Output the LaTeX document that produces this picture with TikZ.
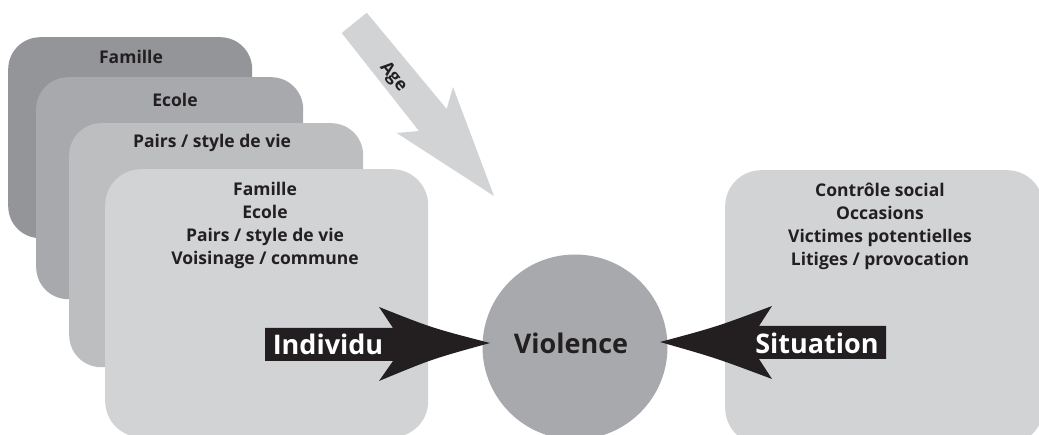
\documentclass[tikz,border=0pt]{standalone}
\usepackage{fontspec}
\setmainfont{Open Sans}
\definecolor{gA}{HTML}{939598}
\definecolor{gB}{HTML}{A7A9AC}
\definecolor{gC}{HTML}{BCBEC0}
\definecolor{gD}{HTML}{D1D3D4}
\definecolor{ink}{HTML}{231F20}
\tikzset{
  panel/.style={rectangle, rounded corners=32pt, inner sep=0pt, anchor=north west, draw=none},
  lbl/.style={text=ink, font=\bfseries\fontsize{17.5}{23}\selectfont, align=center, inner sep=0pt},
  big/.style={font=\bfseries\fontsize{27}{30}\selectfont, inner sep=0pt},
  blk/.style={fill=ink, draw=none}
}
\begin{document}
\begin{tikzpicture}[x=1pt,y=-1pt]
\clip (0,0) rectangle (1039,435);
% stacked panels
\node[panel, fill=gA, minimum width=244pt, minimum height=201pt] (p1) at (8,37) {};
\node[panel, fill=gB, minimum width=267pt, minimum height=222pt] (p2) at (36,77) {};
\node[panel, fill=gC, minimum width=294pt, minimum height=244pt] (p3) at (69,123) {};
\node[panel, fill=gD, minimum width=323pt, minimum height=268pt, rounded corners=36pt] (p4) at (105,169) {};
\node[panel, fill=gD, minimum width=318pt, minimum height=274pt, rounded corners=36pt] (ps) at (725,170) {};
% labels
\node[lbl] (t1) at (131,57) {Famille};
\node[lbl] (t2) at (175,100) {Ecole};
\node[lbl] (t3) at (212,143) {Pairs / style de vie};
\node[lbl] (t4) at (265,225.5) {Famille\\Ecole\\Pairs / style de vie\\Voisinage / commune};
\node[lbl] (t5) at (880,226.5) {Contrôle social\\Occasions\\Victimes potentielles\\Litiges / provocation};
% Age arrow
\fill[gD] (366.7,12.7) -- (446.7,109) -- (453,87) -- (494,196) -- (396.7,133) -- (419,131) -- (341.7,33) -- cycle;
\node[lbl, rotate=-51] (age) at (393,77) {Age};
% circle
\node[circle, fill=gB, minimum size=185pt, inner sep=0pt] (v) at (575,347) {};
\node[big, text=ink] (vt) at (571,343) {Violence};
% Individu arrow
\fill[blk] (265,328) -- (393,328) -- (379,307) .. controls (432,328) .. (490,343)
  .. controls (432,359) .. (379,381) -- (393,361) -- (265,361) -- cycle;
\node[big, text=white] (ind) at (328,344) {Individu};
% Situation arrow
\fill[blk] (886,326) -- (759,326) -- (772,306) .. controls (716,327) .. (660,342)
  .. controls (716,358) .. (772,379) -- (759,359) -- (886,359) -- cycle;
\node[big, text=white] (sit) at (817,343) {Situation};
\end{tikzpicture}
\end{document}
